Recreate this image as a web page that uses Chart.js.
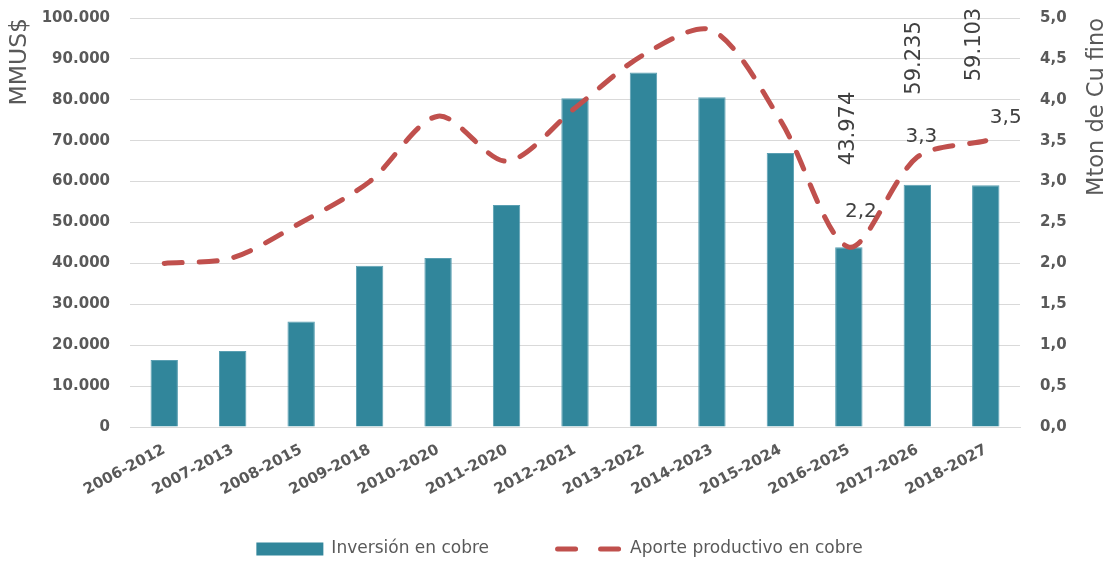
<!DOCTYPE html>
<html>
<head>
<meta charset="utf-8">
<script src="https://cdn.jsdelivr.net/npm/chart.js@4.4.0/dist/chart.umd.min.js"></script>
<style>
  html, body { margin: 0; padding: 0; background: #ffffff; }
  #wrap { width: 1111px; height: 561px; }
</style>
</head>
<body>
<div id="wrap"><canvas id="chart" width="1111" height="561"></canvas></div>
<script>
// Periodos de cartera
const periods = ['2006-2012', '2007-2013', '2008-2015', '2009-2018', '2010-2020', '2011-2020',
    '2012-2021', '2013-2022', '2014-2023', '2015-2024', '2016-2025', '2017-2026', '2018-2027'];

// Inversión en cobre (MMUS$)
const investment = [16400, 18600, 25800, 39400, 41300, 54300, 80400, 86700, 80600, 67000, 43974, 59235, 59103];

// Aporte productivo en cobre (Mton de Cu fino)
const production = [2.0, 2.07, 2.5, 3.0, 3.8, 3.25, 3.9, 4.55, 4.85, 3.75, 2.2, 3.3, 3.5];

// Which points carry a data label
const labelledIdx = [10, 11, 12];

const leftTicks = [0, 10000, 20000, 30000, 40000, 50000, 60000, 70000, 80000, 90000, 100000];
const rightTicks = [0, 0.5, 1, 1.5, 2, 2.5, 3, 3.5, 4, 4.5, 5];

const BAR_COLOR = '#31869b';
const LINE_COLOR = '#c0504d';
const TEXT_GRAY = '#595959';
const LABEL_GRAY = '#404040';
const FONT = "'DejaVu Sans', sans-serif";

function fmtThousands(v) {
    return v.toLocaleString('de-DE');
}
function fmtDecimal(v) {
    return v.toFixed(1).replace('.', ',');
}

// Axis titles drawn by hand so the right one reads bottom-to-top like the original
const axisTitles = {
    id: 'axisTitles',
    afterDraw(chart) {
        const ctx = chart.ctx;
        const top = chart.chartArea.top;
        ctx.save();
        ctx.fillStyle = TEXT_GRAY;
        ctx.textAlign = 'right';
        ctx.textBaseline = 'middle';
        [['MMUS$', 20, 23.5], ['Mton de Cu fino', 1097, 22.5]].forEach(([text, x, size]) => {
            ctx.save();
            ctx.font = size + "px " + FONT;
            ctx.translate(x, top);
            ctx.rotate(-Math.PI / 2);
            ctx.fillText(text, 0, 0);
            ctx.restore();
        });
        ctx.restore();
    }
};

// Legend row under the chart (bar swatch, dashed line sample)
const bottomLegend = {
    id: 'bottomLegend',
    afterDraw(chart) {
        const ctx = chart.ctx;
        const y = 549;
        const swatchW = 67;
        ctx.save();
        ctx.font = "17px " + FONT;
        ctx.fillStyle = TEXT_GRAY;
        ctx.textBaseline = 'middle';
        ctx.textAlign = 'left';
        const items = [chart.data.datasets[1], chart.data.datasets[0]];
        const widths = items.map(ds => swatchW + 8 + ctx.measureText(ds.label).width);
        const gap = 66;
        let x = (chart.width - (widths[0] + gap + widths[1])) / 2 + 4;
        items.forEach((ds, i) => {
            if (ds.type === 'bar') {
                ctx.fillStyle = ds.backgroundColor;
                ctx.fillRect(x, y - 6.5, swatchW, 13);
            } else {
                ctx.save();
                ctx.strokeStyle = ds.borderColor;
                ctx.lineWidth = 5;
                ctx.lineCap = 'round';
                ctx.setLineDash([18, 25]);
                ctx.beginPath();
                ctx.moveTo(x + 2.5, y);
                ctx.lineTo(x + swatchW, y);
                ctx.stroke();
                ctx.restore();
            }
            ctx.fillStyle = TEXT_GRAY;
            ctx.fillText(ds.label, x + swatchW + 8, y);
            x += widths[i] + gap;
        });
        ctx.restore();
    }
};

// Data labels for the last three periods
const valueLabels = {
    id: 'valueLabels',
    afterDatasetsDraw(chart) {
        const ctx = chart.ctx;
        const bars = chart.getDatasetMeta(1).data;
        const points = chart.getDatasetMeta(0).data;
        const barGap = [82, 90, 104];
        const barDx = [0, -3, -11];
        const ptDx = [12, 4, 20];
        const ptDy = [-35, -20, -23];
        ctx.save();
        ctx.fillStyle = LABEL_GRAY;
        labelledIdx.forEach((i, k) => {
            const b = bars[i];
            ctx.save();
            ctx.font = "21px " + FONT;
            ctx.translate(b.x + barDx[k], b.y - barGap[k]);
            ctx.rotate(-Math.PI / 2);
            ctx.textAlign = 'left';
            ctx.textBaseline = 'middle';
            ctx.fillText(fmtThousands(investment[i]), 0, 0);
            ctx.restore();

            const p = points[i];
            ctx.font = "20px " + FONT;
            ctx.textAlign = 'center';
            ctx.textBaseline = 'middle';
            ctx.fillText(fmtDecimal(production[i]), p.x + ptDx[k], p.y + ptDy[k]);
        });
        ctx.restore();
    }
};

// y axes: keep tick padding horizontal only, so the plot reaches the top
function trimVerticalPadding(scale, width) {
    scale.width = width;
    scale.paddingTop = 0;
    scale.paddingBottom = 0;
}

const ctx = document.getElementById('chart').getContext('2d');
new Chart(ctx, {
    data: {
        labels: periods,
        datasets: [
            {
                type: 'line',
                label: 'Aporte productivo en cobre',
                data: production,
                yAxisID: 'y1',
                borderColor: LINE_COLOR,
                backgroundColor: LINE_COLOR,
                borderWidth: 5,
                borderDash: [18, 17],
                borderCapStyle: 'round',
                tension: 0.3,
                pointRadius: 0,
                fill: false,
                order: 0
            },
            {
                type: 'bar',
                label: 'Inversión en cobre',
                data: investment,
                yAxisID: 'y',
                backgroundColor: BAR_COLOR,
                borderColor: '#5a9fb2',
                borderWidth: 1,
                barPercentage: 0.4,
                categoryPercentage: 1.0,
                order: 1
            }
        ]
    },
    options: {
        responsive: false,
        animation: false,
        layout: { padding: { top: 18, bottom: 45, left: 0, right: 0 } },
        plugins: {
            legend: { display: false },
            tooltip: { enabled: false }
        },
        scales: {
            x: {
                grid: { display: false, drawTicks: false },
                border: { display: true, color: '#d9d9d9', width: 1 },
                ticks: {
                    color: TEXT_GRAY,
                    font: { family: FONT, size: 15, weight: 'bold' },
                    minRotation: 28,
                    maxRotation: 28,
                    padding: 14,
                    autoSkip: false
                },
                afterFit(scale) { scale.height = 89; }
            },
            y: {
                position: 'left',
                min: 0,
                max: 100000,
                afterBuildTicks(scale) { scale.ticks = leftTicks.map(v => ({ value: v })); },
                grid: { color: '#d9d9d9', lineWidth: 1, drawTicks: false },
                border: { display: false },
                ticks: {
                    color: TEXT_GRAY,
                    font: { family: FONT, size: 15, weight: 'bold' },
                    padding: 20,
                    callback: v => fmtThousands(v)
                },
                afterFit(scale) { trimVerticalPadding(scale, 130); }
            },
            y1: {
                position: 'right',
                min: 0,
                max: 5,
                afterBuildTicks(scale) { scale.ticks = rightTicks.map(v => ({ value: v })); },
                grid: { drawOnChartArea: false, drawTicks: false },
                border: { display: false },
                ticks: {
                    color: TEXT_GRAY,
                    font: { family: FONT, size: 15, weight: 'bold' },
                    padding: 20,
                    callback: v => fmtDecimal(v)
                },
                afterFit(scale) { trimVerticalPadding(scale, 91); }
            }
        }
    },
    plugins: [axisTitles, valueLabels, bottomLegend]
});
</script>
</body>
</html>
